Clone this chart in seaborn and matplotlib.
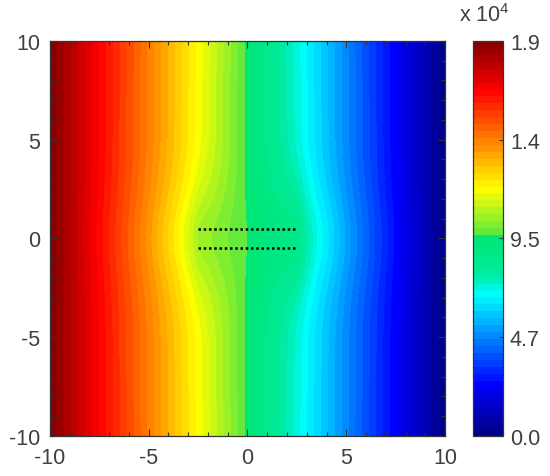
import numpy as np
import matplotlib
matplotlib.use("Agg")
import matplotlib.pyplot as plt
import seaborn as sns
from matplotlib.colors import LinearSegmentedColormap
from matplotlib.ticker import MultipleLocator

# grid nodes (field values in units of 1e4)
x_nodes = [-10, -8, -6, -5, -4, -3.5, -3, -2.5, -2, -1, 0,
           1, 2, 2.5, 3, 3.5, 4, 5, 6, 8, 10]
y_nodes_upper = [0, 0.5, 1, 1.5, 2, 3, 4, 5, 10]

field_upper = [
    [1.900, 1.700, 1.490, 1.380, 1.260, 1.200, 1.130, 1.060, 1.040, 1.000, 0.965,
     0.930, 0.895, 0.872, 0.775, 0.700, 0.645, 0.525, 0.415, 0.203, 0.000],
    [1.900, 1.700, 1.491, 1.381, 1.262, 1.203, 1.133, 1.064, 1.043, 1.001, 0.965,
     0.928, 0.891, 0.867, 0.772, 0.698, 0.643, 0.524, 0.414, 0.203, 0.000],
    [1.900, 1.701, 1.494, 1.386, 1.269, 1.211, 1.144, 1.077, 1.053, 1.006, 0.963,
     0.920, 0.878, 0.851, 0.761, 0.689, 0.635, 0.519, 0.411, 0.201, 0.000],
    [1.900, 1.703, 1.498, 1.392, 1.279, 1.222, 1.158, 1.094, 1.067, 1.012, 0.961,
     0.910, 0.859, 0.829, 0.745, 0.678, 0.625, 0.512, 0.406, 0.200, 0.000],
    [1.900, 1.704, 1.503, 1.399, 1.289, 1.235, 1.174, 1.114, 1.082, 1.019, 0.959,
     0.899, 0.838, 0.805, 0.729, 0.665, 0.614, 0.504, 0.400, 0.198, 0.000],
    [1.900, 1.707, 1.510, 1.411, 1.308, 1.256, 1.201, 1.147, 1.108, 1.031, 0.955,
     0.879, 0.803, 0.764, 0.700, 0.644, 0.594, 0.491, 0.391, 0.194, 0.000],
    [1.900, 1.708, 1.516, 1.418, 1.320, 1.270, 1.219, 1.168, 1.125, 1.038, 0.952,
     0.866, 0.780, 0.736, 0.682, 0.630, 0.581, 0.483, 0.385, 0.192, 0.000],
    [1.900, 1.709, 1.518, 1.422, 1.326, 1.278, 1.229, 1.180, 1.134, 1.042, 0.951,
     0.860, 0.768, 0.722, 0.672, 0.623, 0.575, 0.478, 0.382, 0.191, 0.000],
    [1.900, 1.710, 1.520, 1.425, 1.330, 1.283, 1.235, 1.188, 1.140, 1.045, 0.950,
     0.855, 0.760, 0.713, 0.665, 0.618, 0.570, 0.475, 0.380, 0.190, 0.000],
]

# the two plates (dotted lines)
plate_x = [-2.5, 2.5]
plate_y = [0.5, -0.5]

axis_ticks = [-10, -5, 0, 5, 10]
cbar_ticks = [0.0, 0.475, 0.95, 1.425, 1.9]
cbar_labels = ["0.0", "4.7", "9.5", "1.4", "1.9"]

# field is mirror symmetric about y = 0
y_upper = np.array(y_nodes_upper)
z_upper = np.array(field_upper)
y_grid = np.concatenate([-y_upper[:0:-1], y_upper])
z_grid = np.vstack([z_upper[:0:-1], z_upper])

# jet-like colormap as in the colour bar (with its green step)
cmap = LinearSegmentedColormap.from_list("jetlike", [
    (0.00, (0.00, 0.00, 0.52)),
    (0.13, (0.00, 0.00, 1.00)),
    (0.357, (0.00, 1.00, 1.00)),
    (0.385, (0.00, 0.95, 0.80)),
    (0.42, (0.00, 0.92, 0.60)),
    (0.512, (0.00, 0.90, 0.45)),
    (0.518, (0.42, 0.92, 0.22)),
    (0.625, (1.00, 1.00, 0.00)),
    (0.875, (1.00, 0.00, 0.00)),
    (1.00, (0.50, 0.00, 0.00)),
])

sns.set_theme(style="ticks")
plt.rcParams["font.family"] = ["Liberation Sans", "DejaVu Sans"]
plt.rcParams["mathtext.default"] = "regular"
plt.rcParams["axes.unicode_minus"] = False
text_col = "#404040"
edge_col = "#333333"
fsize = 15.5

fig = plt.figure(figsize=(5.5, 4.77), dpi=100)
ax = fig.add_axes([0.0909, 0.0839, 0.7182, 0.8281])
cax = fig.add_axes([0.86, 0.0839, 0.0545, 0.8281])

levels = np.linspace(0, 1.9, 58)
cs = ax.contourf(x_nodes, y_grid, z_grid, levels=levels, cmap=cmap)

for yv in plate_y:
    sns.lineplot(x=plate_x, y=[yv, yv], ax=ax, color="black", linewidth=1.8,
                 linestyle=(0, (1, 1.1)), estimator=None, sort=False)

ax.set_axisbelow(False)
ax.set_xlim(-10, 10)
ax.set_ylim(-10, 10)
ax.set_xticks(axis_ticks)
ax.set_yticks(axis_ticks)
ax.xaxis.set_minor_locator(MultipleLocator(1))
ax.yaxis.set_minor_locator(MultipleLocator(1))
ax.tick_params(which="both", direction="in", top=True, right=True,
               color=edge_col, width=0.8)
ax.tick_params(which="major", length=5, labelsize=fsize, labelcolor=text_col)
ax.tick_params(axis="x", which="major", pad=8)
ax.tick_params(axis="y", which="major", pad=7)
ax.tick_params(which="minor", length=3)
for sp in ax.spines.values():
    sp.set_color(edge_col)
    sp.set_linewidth(0.9)

cb = fig.colorbar(cs, cax=cax, ticks=cbar_ticks)
cb.ax.set_yticklabels(cbar_labels)
cax.set_axisbelow(False)
cax.tick_params(direction="in", length=3, width=0.8, color=edge_col,
                labelsize=fsize, labelcolor=text_col, pad=5)
cb.outline.set_edgecolor(edge_col)
cb.outline.set_linewidth(0.9)

fig.text(0.88, 0.968, "x 10$^4$", ha="center", va="center",
         fontsize=fsize, color=text_col)

fig.savefig("out.png", dpi=100)
